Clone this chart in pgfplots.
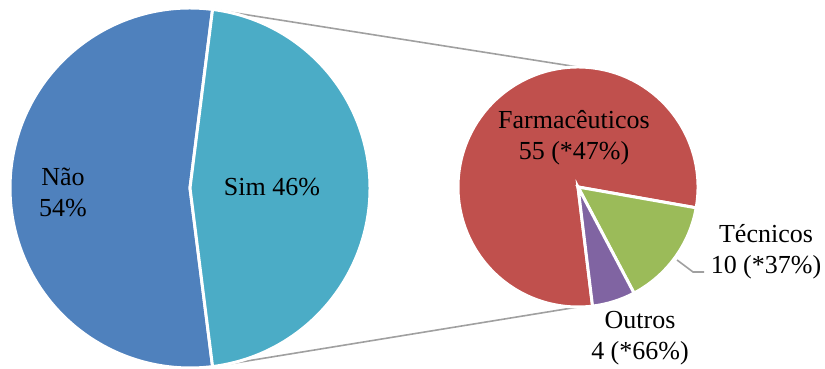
\documentclass[border=0pt]{standalone}
\usepackage{pgfplots}
\pgfplotsset{compat=1.18}
\usepackage{fontspec}
\setmainfont{Liberation Serif}
\definecolor{cNao}{HTML}{4F81BD}
\definecolor{cSim}{HTML}{4BACC6}
\definecolor{cF}{HTML}{C0504D}
\definecolor{cT}{HTML}{9BBB59}
\definecolor{cO}{HTML}{8064A2}
\definecolor{cLine}{HTML}{A0A0A0}
% data
\def\vNao{54}\def\vSim{46}
\def\vF{55}\def\vT{10}\def\vO{4}
\pgfmathsetmacro\half{\vSim/(\vNao+\vSim)*180}
\pgfmathsetmacro\tot{\vF+\vT+\vO}
\pgfmathsetmacro\aT{\vT/\tot*360}
\pgfmathsetmacro\aO{\vO/\tot*360}
\pgfmathsetmacro\sT{-10-\aT}
\pgfmathsetmacro\sO{-10-\aT-\aO}
\pgfmathsetmacro\eF{350-\aT-\aO}
\pgfmathsetmacro\eNao{360-\half}
\begin{document}
\begin{tikzpicture}
\begin{axis}[x=1pt,y=1pt,xmin=0,xmax=825,ymin=0,ymax=368,hide axis,clip=false,scale only axis]
% connector lines
\draw[cLine,line width=1.6pt] (axis cs:212.6,358.6) -- (axis cs:578,301);
\draw[cLine,line width=1.6pt] (axis cs:212.6,1.4) -- (axis cs:578,61);
% left pie
\filldraw[fill=cNao,draw=white,line width=3pt] (axis cs:190,180) -- ++(\half:180pt) arc[start angle=\half,end angle=\eNao,radius=180pt] -- cycle;
\filldraw[fill=cSim,draw=white,line width=3pt] (axis cs:190,180) -- ++(-\half:180pt) arc[start angle=-\half,end angle=\half,radius=180pt] -- cycle;
% right pie
\filldraw[fill=cF,draw=white,line width=3pt] (axis cs:578,181) -- ++(-10:120pt) arc[start angle=-10,end angle=\eF,radius=120pt] -- cycle;
\filldraw[fill=cT,draw=white,line width=3pt] (axis cs:578,181) -- ++(\sT:120pt) arc[start angle=\sT,end angle=-10,radius=120pt] -- cycle;
\filldraw[fill=cO,draw=white,line width=3pt] (axis cs:578,181) -- ++(\sO:120pt) arc[start angle=\sO,end angle=\sT,radius=120pt] -- cycle;
% leader
\draw[cLine,line width=1.6pt] (axis cs:677,108) -- (axis cs:693,96) -- (axis cs:704,96);
% labels
\node[align=center,font=\fontsize{26}{31}\selectfont] at (axis cs:63,176) {Não\\54\%};
\node[align=center,font=\fontsize{26}{31}\selectfont] at (axis cs:272,181) {Sim 46\%};
\node[align=center,font=\fontsize{26}{31}\selectfont] at (axis cs:574,230) {Farmacêuticos\\55 (*47\%)};
\node[align=center,font=\fontsize{26}{31}\selectfont] at (axis cs:766,116) {Técnicos\\10 (*37\%)};
\node[align=center,font=\fontsize{26}{31}\selectfont] at (axis cs:640,30) {Outros\\4 (*66\%)};
\end{axis}
\pgfresetboundingbox
\path (current axis.south west) rectangle (current axis.north east);
\end{tikzpicture}
\end{document}
